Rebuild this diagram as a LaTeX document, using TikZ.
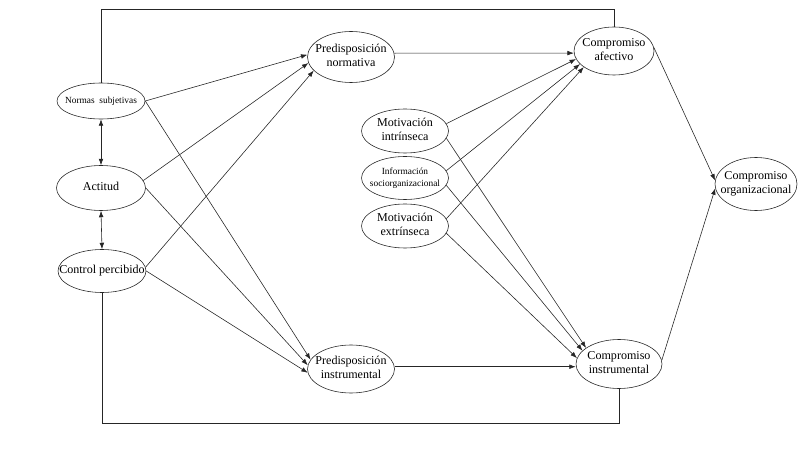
\documentclass[tikz,border=0pt]{standalone}
\usepackage{fontspec}
\setmainfont{Liberation Serif}
\usetikzlibrary{shapes.geometric,arrows.meta}

\newcommand\ovaltext[1]{\makebox[0pt]{\begin{tabular}{@{}c@{}}#1\end{tabular}}}

\begin{document}
\begin{tikzpicture}[x=0.03cm,y=-0.03cm,
		var/.style={draw=black!85,line width=0.5pt,ellipse,inner sep=0pt,font=\fontsize{10.3}{11.8}\selectfont},
		small/.style={font=\fontsize{8}{10}\selectfont},
		arr/.style={draw=black!85,line width=0.5pt,-{Latex[length=5.5pt,width=4pt]}},
		arrboth/.style={draw=black!85,line width=0.5pt,{Latex[length=5.5pt,width=4pt]}-{Latex[length=5.5pt,width=4pt]}},
		link/.style={draw=black!85,line width=0.5pt}]
		\useasboundingbox (0,0) rectangle (812,457);

		% antecedentes
		\node[var,small,minimum width=2.64cm,minimum height=1.08cm] (ns) at (101,101) {\ovaltext{Normas\ \ subjetivas}};
		\node[var,minimum width=2.67cm,minimum height=1.35cm] (act) at (101,188) {\ovaltext{Actitud}};
		\node[var,minimum width=2.64cm,minimum height=1.29cm] (cp) at (102,271) {\ovaltext{Control percibido}};

		% predisposiciones
		\node[var,minimum width=2.61cm,minimum height=1.53cm] (pn) at (351,57) {\ovaltext{Predisposición\\normativa}};
		\node[var,minimum width=2.61cm,minimum height=1.44cm] (pi) at (351,369) {\ovaltext{Predisposición\\instrumental}};

		% motivaciones
		\node[var,minimum width=2.61cm,minimum height=1.32cm] (mi) at (405,131) {\ovaltext{Motivación\\intrínseca}};
		\node[var,small,minimum width=2.61cm,minimum height=1.29cm] (is) at (405,178) {\ovaltext{Información\\sociorganizacional}};
		\node[var,minimum width=2.61cm,minimum height=1.32cm] (me) at (405,226) {\ovaltext{Motivación\\extrínseca}};

		% compromisos
		\node[var,minimum width=2.40cm,minimum height=1.44cm] (ca) at (614,51) {\ovaltext{Compromiso\\afectivo}};
		\node[var,minimum width=2.58cm,minimum height=1.47cm] (ci) at (619,364) {\ovaltext{Compromiso\\instrumental}};
		\node[var,minimum width=2.46cm,minimum height=1.59cm] (co) at (756,184) {\ovaltext{Compromiso\\organizacional}};

		\coordinate (top) at (0,9);
		\coordinate (bot) at (0,423);

		\draw[arrboth] (ns.south) -- (act.north);
		\draw[arrboth] (act.south) -- (cp.north);

		\draw[arr] (ns.east) -- (pn.177);
		\draw[arr] (ns.east) -- (pi.167);
		\draw[arr] (act.10) -- (pn.188);
		\draw[arr] (act.0) -- (pi.175);
		\draw[arr] (cp.5) -- (pn.200);
		\draw[arr] (cp.0) -- (pi.185);

		\draw[arr] (pn.5) -- (ca.183);
		\draw[arr] (pi.3) -- (pi.3 -| ci.west);

		\draw[arr] (mi.10) -- (ca.192);
		\draw[arr] (is.10) -- (ca.201);
		\draw[arr] (me.10) -- (ca.208);
		\draw[arr] (mi.350) -- (ci.154);
		\draw[arr] (is.350) -- (ci.160);
		\draw[arr] (me.350) -- (ci.172);

		\draw[arr] (ca.5) -- (co.175);
		\draw[arr] (ci.5) -- (co.186);

		\draw[link] (ns.north) -- (ns.north |- top) -| (ca.north);
		\draw[link] (cp.south) -- (cp.south |- bot) -| (ci.south);
	\end{tikzpicture}
\end{document}
